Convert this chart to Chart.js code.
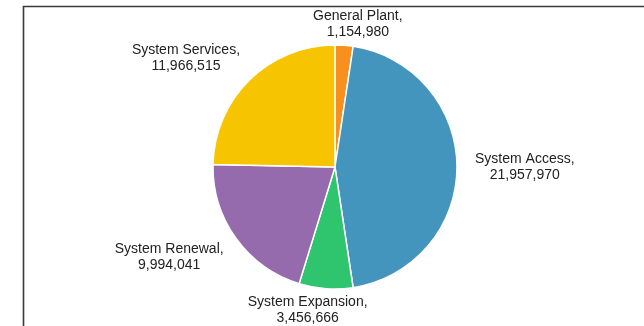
<!DOCTYPE html>
<html>
<head>
<meta charset="utf-8">
<script src="https://cdn.jsdelivr.net/npm/chart.js@4.4.1/dist/chart.umd.min.js"></script>
<style>
	html, body { margin: 0; padding: 0; background: #fff; }
	#wrap { position: relative; width: 644px; height: 326px; }
</style>
</head>
<body>
<div id="wrap"><canvas id="myChart" width="644" height="326"></canvas></div>
<script>
let labels = ['General Plant', 'System Access', 'System Expansion', 'System Renewal', 'System Services']
let values = [1154980, 21957970, 3456666, 9994041, 11966515]
let colors = ['#f7901e', '#4395bd', '#2fc46e', '#966bad', '#f6c400']

// dark frame along the top and left edges
let framePlugin = {
	id: 'frame',
	beforeDraw(chart) {
		let c = chart.ctx
		c.save()
		c.strokeStyle = '#3a3a3a'
		c.lineWidth = 1.6
		c.beginPath()
		c.moveTo(23.5, chart.height)
		c.lineTo(23.5, 6.5)
		c.lineTo(chart.width, 6.5)
		c.stroke()
		c.restore()
	},
}

// "Label," / value text placed outside each slice
let outsideLabels = {
	id: 'outsideLabels',
	afterDatasetsDraw(chart) {
		let c = chart.ctx
		let meta = chart.getDatasetMeta(0)
		c.save()
		c.font = '14px "Liberation Sans", Arial, sans-serif'
		c.fillStyle = '#222'
		c.textAlign = 'center'
		c.textBaseline = 'middle'
		let lineH = 16
		meta.data.forEach((arc, i) => {
			let p = arc.getProps(['x', 'y', 'startAngle', 'endAngle', 'outerRadius'], true)
			let mid = (p.startAngle + p.endAngle) / 2
			let dx = Math.cos(mid)
			let dy = Math.sin(mid)
			let lines = [labels[i] + ',', values[i].toLocaleString('en-US')]
			let w = Math.max(...lines.map((t) => c.measureText(t).width))
			let h = lines.length * lineH
			let dist = p.outerRadius + 4 + 14 * Math.abs(dx)
			let ax = p.x + dist * dx
			let ay = p.y + dist * dy
			// side labels hang off the anchor, top/bottom ones lean sideways
			let cx = Math.abs(dx) > 0.5 ? ax + Math.sign(dx) * w / 2 : ax + dx * w * 2
			let cy = ay + dy * h / 2
			lines.forEach((t, k) => {
				c.fillText(t, cx, cy - h / 2 + lineH / 2 + k * lineH)
			})
		})
		c.restore()
	},
}

let ctx = document.getElementById('myChart').getContext('2d')
let myChart = new Chart(ctx, {
	type: 'pie',
	data: {
		labels: labels,
		datasets: [
			{
				data: values,
				backgroundColor: colors,
				borderColor: '#fff',
				borderWidth: 1.5,
			},
		],
	},
	options: {
		responsive: false,
		animation: false,
		radius: 122,
		layout: { padding: { left: 26, right: 0, top: 8, bottom: 0 } },
		plugins: {
			legend: { display: false },
			tooltip: { enabled: false },
		},
	},
	plugins: [framePlugin, outsideLabels],
})
</script>
</body>
</html>
